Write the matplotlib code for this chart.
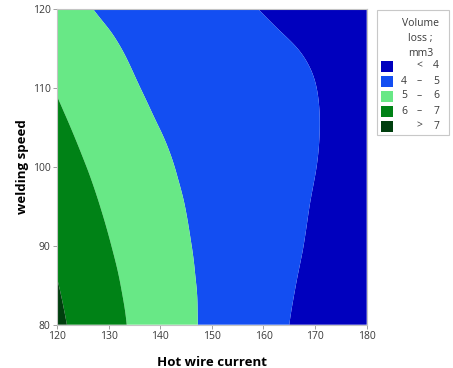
import numpy as np
import matplotlib.pyplot as plt
import matplotlib.tri as mtri
from matplotlib.patches import Rectangle

plt.rcParams['font.family'] = ['Open Sans', 'DejaVu Sans']

# response surface sampled on a regular grid (rows = speed, columns = current)
current = [120, 125, 130, 135, 140, 145, 150, 155, 160, 165, 170, 175, 180]
speed = [80, 85, 90, 95, 100, 105, 110, 115, 120]
volume_loss = [
    [7.17, 6.73, 6.30, 5.88, 5.52, 5.15, 4.84, 4.56, 4.28, 4.00, 3.77, 3.55, 3.33],
    [7.03, 6.60, 6.18, 5.81, 5.47, 5.12, 4.84, 4.58, 4.32, 4.06, 3.84, 3.63, 3.42],
    [6.85, 6.44, 6.04, 5.71, 5.39, 5.06, 4.82, 4.59, 4.35, 4.12, 3.91, 3.72, 3.53],
    [6.64, 6.25, 5.89, 5.59, 5.28, 4.99, 4.78, 4.58, 4.37, 4.16, 3.96, 3.79, 3.61],
    [6.42, 6.05, 5.73, 5.44, 5.15, 4.90, 4.72, 4.54, 4.37, 4.19, 4.01, 3.84, 3.67],
    [6.19, 5.84, 5.54, 5.26, 4.99, 4.82, 4.67, 4.51, 4.35, 4.19, 4.03, 3.86, 3.69],
    [5.95, 5.61, 5.33, 5.06, 4.85, 4.74, 4.60, 4.45, 4.30, 4.16, 4.01, 3.84, 3.68],
    [5.67, 5.35, 5.11, 4.89, 4.72, 4.62, 4.48, 4.34, 4.20, 4.05, 3.88, 3.68, 3.48],
    [5.38, 5.09, 4.89, 4.74, 4.58, 4.44, 4.28, 4.13, 3.96, 3.76, 3.56, 3.36, 3.16],
]

levels = [0, 4, 5, 6, 7, 20]
band_colors = ['#0000BE', '#134EF2', '#68E886', '#008216', '#003F0E']
band_labels = [('', '<', '4'), ('4', '–', '5'), ('5', '–', '6'), ('6', '–', '7'), ('', '>', '7')]

fig = plt.figure(figsize=(4.53, 3.68), dpi=100)
ax = fig.add_axes([0.1258, 0.1177, 0.6837, 0.8578])

# smooth the coarse grid with a cubic refinement before filling the bands
X, Y = np.meshgrid(current, speed)
tri = mtri.Triangulation(X.ravel(), Y.ravel())
refiner = mtri.UniformTriRefiner(tri)
tri_fine, z_fine = refiner.refine_field(np.array(volume_loss).ravel(), subdiv=4)
ax.tricontourf(tri_fine, z_fine, levels=levels, colors=band_colors, antialiased=True)

ax.set_xlim(120, 180)
ax.set_ylim(80, 120)
ax.set_xticks(np.arange(120, 181, 10))
ax.set_yticks(np.arange(80, 121, 10))
ax.tick_params(length=3, width=0.7, color='#A0A0A0', labelsize=7.5,
               labelcolor='#3A3A3A', pad=1.5)
for sp in ax.spines.values():
    sp.set_color('#C4C4C4')
    sp.set_linewidth(0.8)

ax.set_xlabel('Hot wire current', fontsize=9.5, fontweight='bold', labelpad=10)
ax.set_ylabel('welding speed', fontsize=9.5, fontweight='bold', labelpad=3)

# legend box drawn by hand in figure pixels
W, H = 453, 368
def fx(px):
    return px / W
def fy(py):
    return 1 - py / H

fig.patches.append(Rectangle((fx(376.5), fy(135)), (449 - 376.5) / W, (135 - 9.5) / H,
                             transform=fig.transFigure, facecolor='white',
                             edgecolor='#C8C8C8', linewidth=0.8))
for i, line in enumerate(['Volume', 'loss ;', 'mm3']):
    fig.text(fx(420.5), fy(23.5 + 15 * i), line, fontsize=7.5, color='#3A3A3A',
             ha='center', va='center')
for i, (color, (lo, sep, hi)) in enumerate(zip(band_colors, band_labels)):
    yc = 66 + 15 * i
    fig.patches.append(Rectangle((fx(381), fy(yc + 5.5)), 11.5 / W, 11 / H,
                                 transform=fig.transFigure, facecolor=color,
                                 edgecolor='none'))
    for txt, xc in zip((lo, sep, hi), (404, 419.5, 436)):
        fig.text(fx(xc), fy(yc), txt, fontsize=7.5, color='#3A3A3A',
                 ha='center', va='center')

fig.savefig('out.png', dpi=100)
